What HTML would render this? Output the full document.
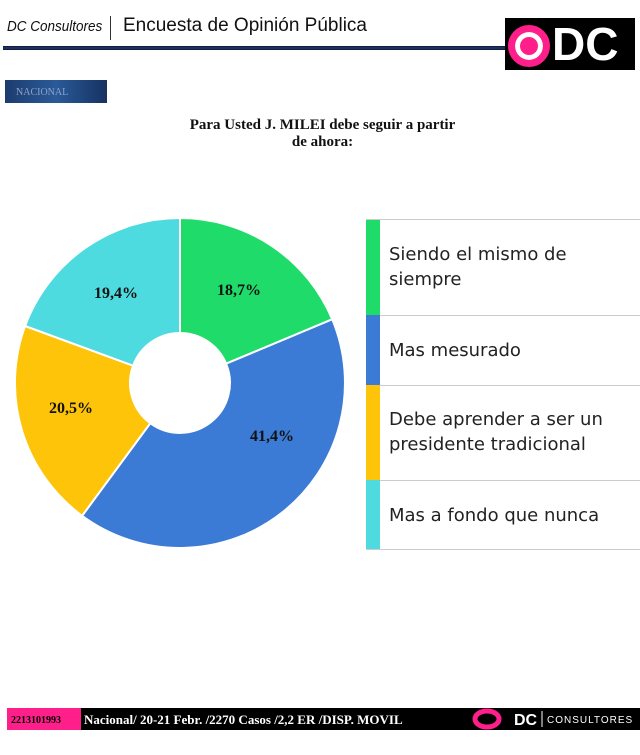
<!DOCTYPE html>
<html><head><meta charset="utf-8"><style>
body{margin:0;width:640px;height:755px;background:#fff;position:relative;overflow:hidden;font-family:"Liberation Sans",sans-serif}
.a{position:absolute}
</style></head><body>
<div class="a" style="left:7px;top:18px;font-size:15px;font-style:italic;color:#111;transform:scaleX(.9);transform-origin:left">DC Consultores</div>
<div class="a" style="left:110px;top:16px;width:1px;height:24px;background:#333"></div>
<div class="a" style="left:123px;top:15px;font-size:19px;color:#111">Encuesta de Opinión Pública</div>
<div class="a" style="left:3px;top:46px;width:510px;height:4px;background:linear-gradient(#0a1330,#283a70,#0a1330)"></div>
<div class="a" style="left:505px;top:18px;width:130px;height:52px;background:#000"></div>
<div class="a" style="left:508px;top:25px;width:28px;height:28px;border:7px solid #ff1f8a;border-radius:50%;background:#ff1f8a;box-shadow:inset 0 0 0 5px #fff"></div>
<div class="a" style="left:552px;top:18px;font-size:46px;font-weight:bold;color:#fff;line-height:52px">DC</div>
<div class="a" style="left:5px;top:80px;width:102px;height:23px;background:linear-gradient(90deg,#1d3c6e,#2a5a99,#163260)"></div>
<div class="a" style="left:16px;top:87px;font-size:10px;font-family:'Liberation Serif',serif;color:#8ea3c8">NACIONAL</div>
<div class="a" style="left:150px;top:117px;width:345px;text-align:center;font-family:'Liberation Serif',serif;font-weight:bold;font-size:15px;line-height:17px;color:#111">Para Usted J. MILEI debe seguir a partir<br>de ahora:</div>
<svg class="a" style="left:0;top:0" width="640" height="755">
<g stroke="#fff" stroke-width="2">
<path d="M180,218 A165,165 0 0 1 332.2,319.3 L226.1,363.7 A50,50 0 0 0 180,333Z" fill="#1fdc6a"/>
<path d="M332.2,319.3 A165,165 0 0 1 82.1,515.8 L150.3,423.2 A50,50 0 0 0 226.1,363.7Z" fill="#3b7bd6"/>
<path d="M82.1,515.8 A165,165 0 0 1 25.1,326 L133.1,365.7 A50,50 0 0 0 150.3,423.2Z" fill="#fec40a"/>
<path d="M25.1,326 A165,165 0 0 1 180,218 L180,333 A50,50 0 0 0 133.1,365.7Z" fill="#4ddbe0"/>
</g>
<g font-family="Liberation Serif,serif" font-weight="bold" font-size="16" fill="#111" text-anchor="middle">
<text x="239" y="295">18,7%</text>
<text x="272" y="441">41,4%</text>
<text x="71" y="413">20,5%</text>
<text x="116" y="298">19,4%</text>
</g>
<rect x="366" y="220" width="14" height="95" fill="#1fdc6a"/>
<rect x="366" y="315" width="14" height="70" fill="#3b7bd6"/>
<rect x="366" y="385" width="14" height="95" fill="#fec40a"/>
<rect x="366" y="480" width="14" height="70" fill="#4ddbe0"/>
<g stroke="#ccc" stroke-width="1">
<line x1="366" y1="219.5" x2="640" y2="219.5"/><line x1="380" y1="315.5" x2="640" y2="315.5"/>
<line x1="380" y1="385.5" x2="640" y2="385.5"/><line x1="380" y1="480.5" x2="640" y2="480.5"/>
<line x1="366" y1="549.5" x2="640" y2="549.5"/>
</g>
<g font-family="DejaVu Sans,sans-serif" font-size="18" fill="#222">
<text x="389" y="260">Siendo el mismo de</text><text x="389" y="285">siempre</text>
<text x="389" y="356">Mas mesurado</text>
<text x="389" y="425">Debe aprender a ser un</text><text x="389" y="450">presidente tradicional</text>
<text x="389" y="521">Mas a fondo que nunca</text>
</g>
<rect x="7" y="708" width="633" height="22" fill="#000"/>
<rect x="7" y="708" width="74" height="22" fill="#ff1f8a"/>
<text x="11" y="723" font-family="Liberation Serif,serif" font-weight="bold" font-size="10" fill="#000">2213101993</text>
<text x="84" y="724" font-family="Liberation Serif,serif" font-weight="bold" font-size="13" fill="#fff">Nacional/ 20-21 Febr. /2270 Casos /2,2 ER /DISP. MOVIL</text>
<ellipse cx="487" cy="719" rx="12" ry="8" fill="none" stroke="#ff1f8a" stroke-width="5"/>
<text x="514" y="725" font-family="Liberation Sans,sans-serif" font-weight="bold" font-size="16" fill="#fff">DC</text>
<line x1="542" y1="711" x2="542" y2="727" stroke="#fff"/>
<text x="547" y="723" font-family="Liberation Sans,sans-serif" font-size="10" fill="#fff" letter-spacing="1">CONSULTORES</text>
</svg>
</body></html>
